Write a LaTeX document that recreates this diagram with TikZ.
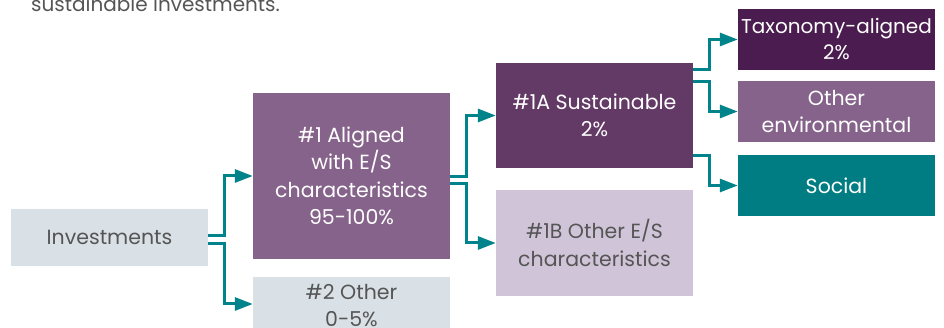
\documentclass[tikz,border=0pt]{standalone}
\usepackage{fontspec}
\setmainfont{Poppins}
\usetikzlibrary{arrows.meta}
\definecolor{lightbox}{HTML}{D9E1E6}
\definecolor{midpurple}{HTML}{86638A}
\definecolor{darkpurple}{HTML}{633A66}
\definecolor{deeppurple}{HTML}{4B1C4F}
\definecolor{lavender}{HTML}{D0C5D8}
\definecolor{tealbox}{HTML}{007D82}
\definecolor{tealline}{HTML}{00838A}
\definecolor{greytext}{HTML}{555555}
\tikzset{
  box/.style={rectangle, inner sep=0pt, minimum width=197pt, align=center,
    font=\fontsize{20.5}{27.5}\selectfont},
  lightb/.style={box, fill=lightbox, text=greytext},
  lavb/.style={box, fill=lavender, text=greytext},
  midb/.style={box, fill=midpurple, text=white},
  darkb/.style={box, fill=darkpurple, text=white},
  deepb/.style={box, fill=deeppurple, text=white},
  tealb/.style={box, fill=tealbox, text=white},
  conn/.style={draw=tealline, line width=3pt, -{Triangle[length=18pt,width=13pt]}}
}
\begin{document}
\begin{tikzpicture}[x=1pt,y=-1pt]
\useasboundingbox (0,0) rectangle (944,328);
\node[anchor=base west, text=greytext, font=\fontsize{20}{24}\selectfont, inner sep=0pt] (cap) at (31,11.5) {sustainable investments.};
\node[lightb, minimum height=57pt] (inv) at (109.5,237.5) {Investments};
\node[midb, minimum height=166pt] (a1) at (351.5,176) {\#1 Aligned\\with E/S\\characteristics\\95-100\%};
\node[lightb, minimum height=54pt] (o2) at (351.5,304) {};
\node[text=greytext, font=\fontsize{20.5}{27.5}\selectfont, align=center, inner sep=0pt, anchor=north] (o2t) at (351.5,284) {\#2 Other\\0-5\%};
\node[darkb, minimum height=105pt] (s1a) at (594.5,115.5) {\#1A Sustainable\\2\%};
\node[lavb, minimum height=106pt] (o1b) at (594.5,243) {\#1B Other E/S\\characteristics};
\node[deepb, minimum height=61pt, font=\fontsize{20}{26}\selectfont] (tax) at (836.5,39.5) {Taxonomy-aligned\\2\%};
\node[midb, minimum height=61pt] (env) at (836.5,111.5) {Other\\environmental};
\node[tealb, minimum height=61pt] (soc) at (836.5,185.5) {Social};
% connectors
\draw[conn] ([yshift=1.5pt]inv.east) -- ++(16,0) |- (a1.west);
\draw[conn] ([yshift=-6.5pt]inv.east) -- ++(16,0) |- (o2.west);
\draw[conn] ([yshift=-0.5pt]a1.east) -- ++(16.5,0) |- (s1a.west);
\draw[conn] ([yshift=-8pt]a1.east) -- ++(16.5,0) |- (o1b.west);
\draw[conn] ([yshift=46pt]s1a.east) -- ++(16,0) |- (tax.west);
\draw[conn] ([yshift=34pt]s1a.east) -- ++(16,0) |- (env.west);
\draw[conn] ([yshift=-40pt]s1a.east) -- ++(16,0) |- (soc.west);
\end{tikzpicture}
\end{document}
